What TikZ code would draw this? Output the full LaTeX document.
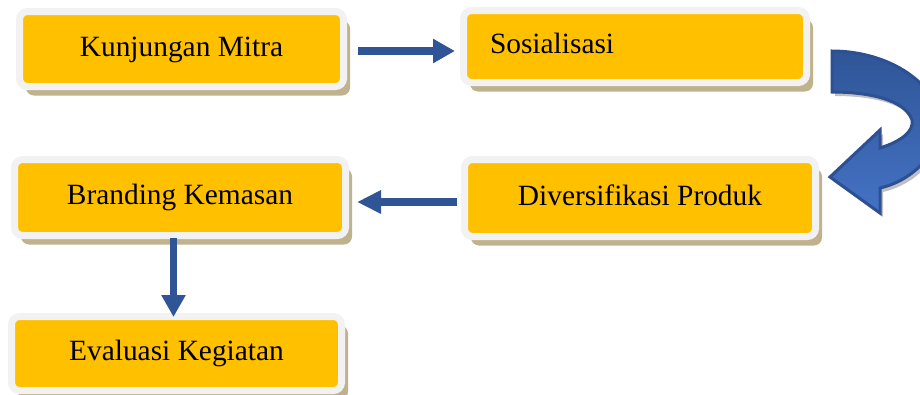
\documentclass[tikz,border=0pt]{standalone}
\usepackage{fontspec}
\setmainfont{Liberation Serif}
\usetikzlibrary{arrows.meta,shadows,calc}
\definecolor{boxyellow}{RGB}{255,192,0}
\definecolor{boxframe}{RGB}{242,242,242}
\definecolor{shadowtan}{RGB}{192,178,140}
\definecolor{arrowblue}{RGB}{47,85,151}
\definecolor{curvetop}{RGB}{47,85,151}
\definecolor{curvebot}{RGB}{68,114,196}
\definecolor{curveedge}{RGB}{44,80,145}
\begin{document}
\begin{tikzpicture}[x=1pt,y=-1pt,
  box/.style={draw=boxframe, line width=7pt, fill=boxyellow, rounded corners=8pt,
    inner sep=0pt, outer sep=0pt, text height=20pt, text depth=6pt,
    font=\fontsize{29.4}{34}\selectfont,
    drop shadow={shadow xshift=6.5pt, shadow yshift=-9pt, fill=shadowtan, opacity=1}},
  flow/.style={draw=arrowblue, line width=8pt, -{Triangle[length=22pt,width=23pt]}},
  curveshape/.style={insert path={
    (832,51) .. controls (890,51) and (940,85) .. (940,125)
    .. controls (940,150) and (915,180) .. (880,188)
    -- (880,213) -- (830,177) -- (880,130) -- (880,148)
    .. controls (902,141) and (914,131) .. (912,120)
    .. controls (905,100) and (870,92) .. (832,92) -- cycle}}]
\useasboundingbox (0,0) rectangle (920,394);
\clip (0,0) rectangle (920,394);

\node[box, minimum width=324pt, minimum height=75pt] (k) at (181.5,49) {Kunjungan Mitra};
\node[box, minimum width=343pt, minimum height=72pt, text width=290pt, inner xsep=26.5pt, align=left] (s) at (635,46.5) {Sosialisasi};
\node[box, minimum width=351pt, minimum height=77pt] (d) at (640,198) {Diversifikasi Produk};
\node[box, minimum width=331pt, minimum height=76pt] (b) at (180,197.5) {Branding Kemasan};
\node[box, minimum width=330pt, minimum height=74pt] (e) at (176.5,353.5) {Evaluasi Kegiatan};

\draw[flow] ($(k.east)+(14.5,2)$) -- ($(s.west)+(-8.5,4.5)$);
\draw[flow, -{Triangle[length=24pt,width=22pt]}] ($(d.west)+(-7.5,4)$) -- ($(b.east)+(11.5,4.5)$);
\draw[flow, line width=7pt] ($(b.south)+(-6.5,2.5)$) -- ($(e.north)+(-3,0.5)$);

\path[fill=black!45, opacity=0.55, shift={(3,4)}] [curveshape];
\path[draw=curveedge, line width=3pt, line join=miter, top color=curvetop, bottom color=curvebot] [curveshape];
\end{tikzpicture}
\end{document}
